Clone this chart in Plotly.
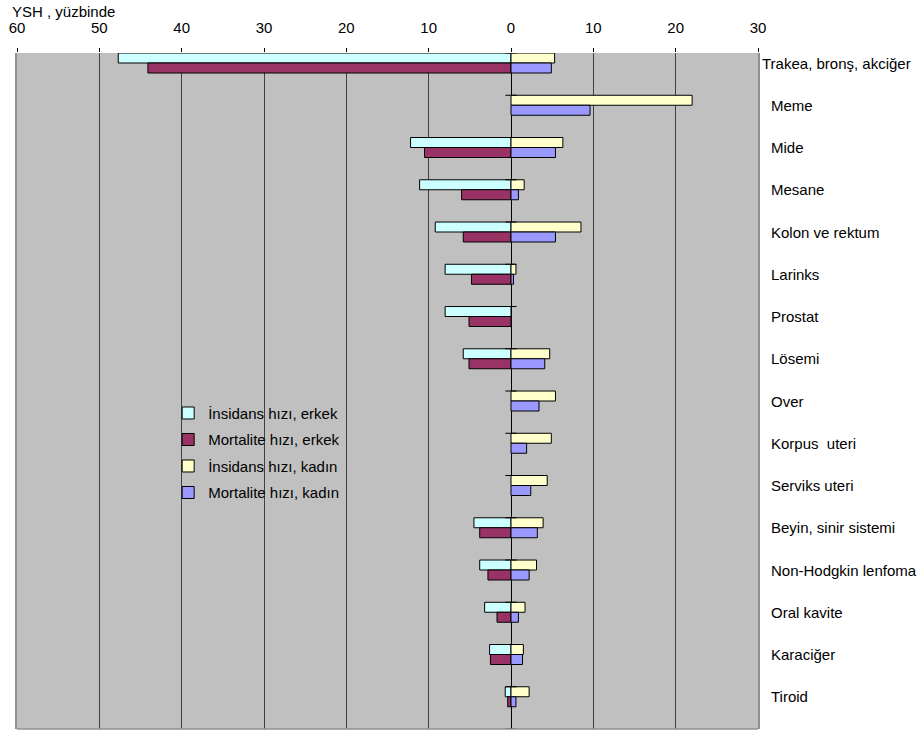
import plotly.graph_objects as go

categories = ["Trakea, bronş, akciğer", "Meme", "Mide", "Mesane", "Kolon ve rektum",
              "Larinks", "Prostat", "Lösemi", "Over", "Korpus  uteri", "Serviks uteri",
              "Beyin, sinir sistemi", "Non-Hodgkin lenfoma", "Oral kavite", "Karaciğer", "Tiroid"]

insidans_erkek = [47.7, None, 12.2, 11.1, 9.2, 8.0, 8.0, 5.8, None, None, None, 4.5, 3.8, 3.2, 2.6, 0.7]
mortalite_erkek = [44.1, None, 10.5, 6.0, 5.8, 4.8, 5.1, 5.1, None, None, None, 3.8, 2.8, 1.7, 2.5, 0.4]
insidans_kadin = [5.3, 22.0, 6.3, 1.6, 8.5, 0.6, None, 4.7, 5.4, 4.9, 4.4, 3.9, 3.1, 1.7, 1.5, 2.2]
mortalite_kadin = [4.9, 9.6, 5.4, 0.9, 5.4, 0.3, None, 4.1, 3.4, 1.9, 2.4, 3.2, 2.2, 0.9, 1.4, 0.6]

tick_vals = [-60, -50, -40, -30, -20, -10, 0, 10, 20, 30]
tick_text = ["60", "50", "40", "30", "20", "10", "0", "10", "20", "30"]

FONT = "Liberation Sans, Arial, sans-serif"
idx = list(range(len(categories)))

def neg(vals):
    return [None if v is None else -v for v in vals]

fig = go.Figure()
line = dict(color="black", width=1)
fig.add_trace(go.Bar(y=idx, x=neg(insidans_erkek), orientation="h", name="İnsidans hızı, erkek",
                     marker=dict(color="#CCFFFF", line=line), offsetgroup="inc", legendgroup="a"))
fig.add_trace(go.Bar(y=idx, x=neg(mortalite_erkek), orientation="h", name="Mortalite hızı, erkek",
                     marker=dict(color="#993366", line=line), offsetgroup="mort", legendgroup="b"))
fig.add_trace(go.Bar(y=idx, x=insidans_kadin, orientation="h", name="İnsidans hızı, kadın",
                     marker=dict(color="#FFFFCC", line=line), offsetgroup="inc", legendgroup="c"))
fig.add_trace(go.Bar(y=idx, x=mortalite_kadin, orientation="h", name="Mortalite hızı, kadın",
                     marker=dict(color="#9999FF", line=line), offsetgroup="mort", legendgroup="d"))

# category-axis tick marks at the zero line (band boundaries)
band_top = 0.237
fig.add_trace(go.Scatter(x=[0] * (len(categories) + 1),
                         y=[i - band_top for i in range(len(categories) + 1)],
                         mode="markers", marker=dict(symbol="line-ew", size=8,
                                                     line=dict(color="black", width=1)),
                         showlegend=False, hoverinfo="skip"))

for i, c in enumerate(categories):
    fig.add_annotation(x=1, xref="paper", y=i, yref="y", text=c, showarrow=False,
                       xanchor="left", yanchor="middle", xshift=2 if i == 0 else 11,
                       font=dict(family=FONT, size=15, color="black"))

fig.add_annotation(x=-0.0094, xref="paper", y=(729 - 11.5) / 676, yref="paper", text="YSH , yüzbinde",
                   showarrow=False, xanchor="left", yanchor="middle",
                   font=dict(family=FONT, size=15, color="black"))

# legend background covering gridline
fig.add_shape(type="rect", xref="x", yref="paper", x0=-39.6, x1=-20.4,
              y0=(729 - 505) / 676, y1=(729 - 396) / 676,
              fillcolor="#C0C0C0", line=dict(width=0), layer="between")
# bottom border
fig.add_shape(type="line", xref="paper", yref="paper", x0=0, x1=1, y0=0, y1=0,
              line=dict(color="#909090", width=1.5))

fig.update_layout(
    width=922, height=731,
    margin=dict(l=17, r=164, t=53, b=2),
    paper_bgcolor="white", plot_bgcolor="#C0C0C0",
    barmode="group", bargap=0.527, bargroupgap=0,
    font=dict(family=FONT, size=15, color="black"),
    showlegend=True,
    legend=dict(x=0.204, y=0.4915, xanchor="left", yanchor="top",
                bgcolor="rgba(0,0,0,0)", tracegroupgap=4, traceorder="grouped",
                font=dict(family=FONT, size=15, color="black")),
    xaxis=dict(side="top", range=[-60, 30], tickvals=tick_vals, ticktext=tick_text,
               showgrid=True, gridcolor="#404040", gridwidth=1.3,
               zeroline=True, zerolinecolor="black", zerolinewidth=1.3,
               ticks="outside", ticklen=4, tickcolor="black", showline=False,
               ticklabelstandoff=9, tickfont=dict(family=FONT, size=15, color="black")),
    yaxis=dict(range=[15.763, -0.237], showticklabels=False, showgrid=False, zeroline=False,
               showline=True, mirror=True, linecolor="#909090", linewidth=1.5, ticks=""),
)

fig.write_html("out.html", config={"displayModeBar": False},
               post_script="document.body.style.margin='0';")
